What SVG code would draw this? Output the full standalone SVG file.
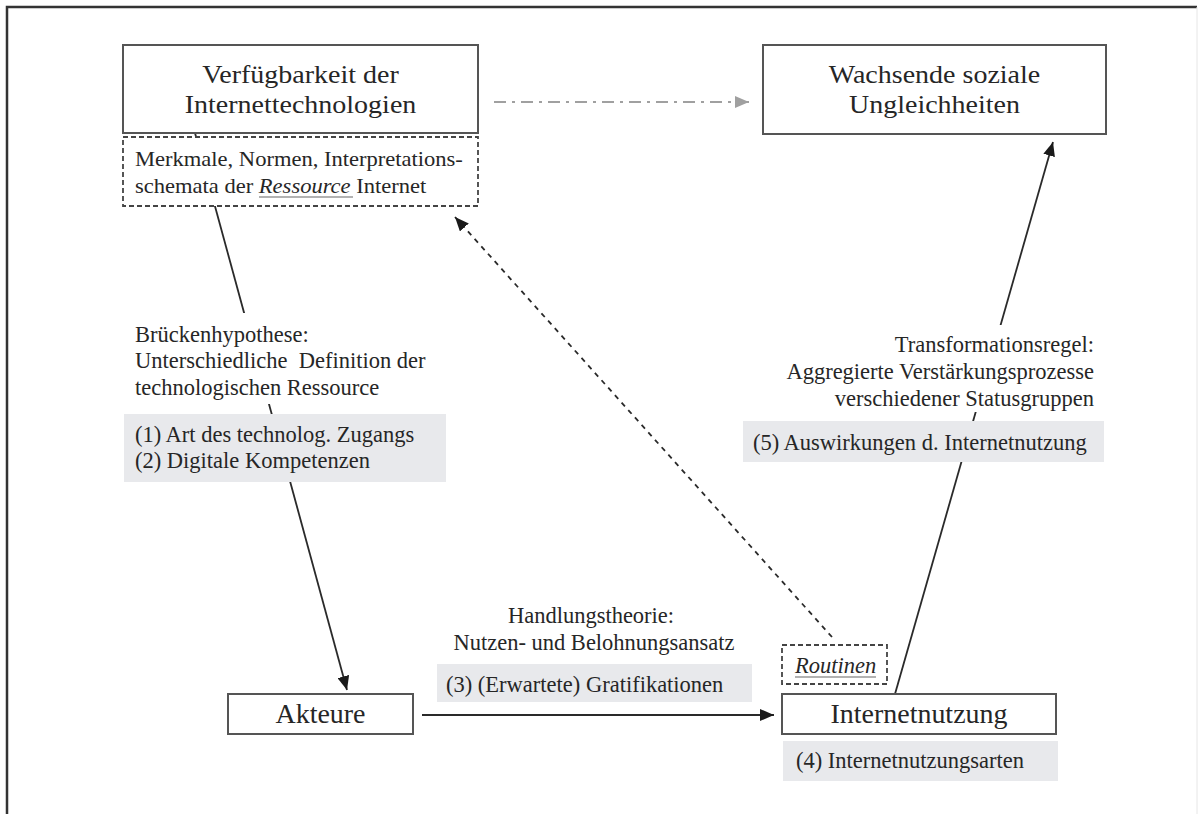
<svg xmlns="http://www.w3.org/2000/svg" width="1200" height="814" viewBox="0 0 1200 814">
<style>
text{font-family:"Liberation Serif","Times New Roman",serif;fill:#262626}
.title{font-size:25px;text-anchor:middle}
.title2{font-size:26.5px;text-anchor:middle}
.lbl{font-size:22.5px}
.box{fill:#fff;stroke:#555;stroke-width:2}
.dbox{fill:#fff;stroke:#444;stroke-width:1.8;stroke-dasharray:5 3}
.gray{fill:#e8e9ec}
.bg{fill:#fff}
.conn{fill:none;stroke:#2a2a2a;stroke-width:1.8}
.dash{stroke-dasharray:5 5}
.dashdot{stroke:#a0a0a0;stroke-dasharray:12 6 3 6}
.ul{stroke:#999;stroke-width:1.3}
</style>
<defs>
<marker id="ah" viewBox="0 0 14 12" refX="14" refY="6" markerWidth="14" markerHeight="12" markerUnits="userSpaceOnUse" orient="auto"><path d="M0,0 L14,6 L0,12 z" fill="#1a1a1a"/></marker>
<marker id="ahg" viewBox="0 0 14 12" refX="14" refY="6" markerWidth="14" markerHeight="12" markerUnits="userSpaceOnUse" orient="auto"><path d="M0,0 L14,6 L0,12 z" fill="#a0a0a0"/></marker>
</defs>
<rect width="1200" height="814" fill="#fff"/>
<g id="frame">
<path d="M7,814 V7 H1197" fill="none" stroke="#333" stroke-width="2.5"/>
<path d="M1197,7 V814" fill="none" stroke="#e6e6e6" stroke-width="1"/>
</g>
<g id="connectors">
<line class="conn" x1="195" y1="133" x2="347" y2="690" marker-end="url(#ah)"/>
<line class="conn" x1="895" y1="694" x2="1053" y2="142" marker-end="url(#ah)"/>
<line class="conn dash" x1="832" y1="637" x2="455" y2="217" marker-end="url(#ah)"/>
<line class="conn" x1="422" y1="715" x2="774" y2="715" marker-end="url(#ah)"/>
<line class="conn dashdot" x1="494" y1="102" x2="749" y2="102" marker-end="url(#ahg)"/>
</g>
<g id="verfuegbarkeit">
<rect class="box" x="123" y="45" width="355" height="88"/>
<text class="title" transform="matrix(1.12 0 0 1 300.5 0)" x="0" y="83">Verfügbarkeit der</text>
<text class="title" transform="matrix(1.12 0 0 1 300.5 0)" x="0" y="113">Internettechnologien</text>
</g>
<g id="merkmale">
<rect class="dbox" x="123" y="137" width="355" height="69"/>
<text class="lbl" style="font-size:20.5px" transform="matrix(1.1 0 0 1 135 0)" x="0" y="166">Merkmale, Normen, Interpretations-</text>
<text class="lbl" style="font-size:20.5px" transform="matrix(1.1 0 0 1 135 0)" x="0" y="193">schemata der <tspan font-style="italic">Ressource</tspan> Internet</text>
<line class="ul" x1="259" y1="197" x2="353" y2="197"/>
</g>
<g id="wachsende">
<rect class="box" x="763" y="45" width="343" height="89"/>
<text class="title" transform="matrix(1.12 0 0 1 934.5 0)" x="0" y="83">Wachsende soziale</text>
<text class="title" transform="matrix(1.12 0 0 1 934.5 0)" x="0" y="113">Ungleichheiten</text>
</g>
<g id="brueckenhypothese">
<rect class="bg" x="128" y="313" width="312" height="91"/>
<text class="lbl" x="135" y="342">Brückenhypothese:</text>
<text class="lbl" x="135" y="368" style="white-space:pre">Unterschiedliche  Definition der</text>
<text class="lbl" x="135" y="395">technologischen Ressource</text>
</g>
<g id="kompetenzen">
<rect class="gray" x="124" y="414" width="322" height="68"/>
<text class="lbl" x="135" y="442">(1) Art des technolog. Zugangs</text>
<text class="lbl" x="135" y="468">(2) Digitale Kompetenzen</text>
</g>
<g id="transformationsregel">
<rect class="bg" x="760" y="325" width="340" height="87"/>
<text class="lbl" x="1094" y="352" text-anchor="end">Transformationsregel:</text>
<text class="lbl" x="1094" y="379" text-anchor="end">Aggregierte Verstärkungsprozesse</text>
<text class="lbl" x="1094" y="406" text-anchor="end">verschiedener Statusgruppen</text>
</g>
<g id="auswirkungen">
<rect class="gray" x="743" y="421" width="361" height="41"/>
<text class="lbl" x="753" y="450">(5) Auswirkungen d. Internetnutzung</text>
</g>
<g id="handlungstheorie">
<text class="lbl" x="591" y="623" text-anchor="middle">Handlungstheorie:</text>
<text class="lbl" x="594" y="650" text-anchor="middle">Nutzen- und Belohnungsansatz</text>
</g>
<g id="gratifikationen">
<rect class="gray" x="437" y="664" width="315" height="38"/>
<text class="lbl" x="446" y="692">(3) (Erwartete) Gratifikationen</text>
</g>
<g id="akteure">
<rect class="box" x="228" y="694" width="185" height="40"/>
<text class="title2" transform="matrix(1.055 0 0 1 320.5 0)" x="0" y="723">Akteure</text>
</g>
<g id="routinen">
<rect class="dbox" x="782" y="645" width="105" height="39"/>
<text class="lbl" x="795" y="673" font-style="italic">Routinen</text>
<line class="ul" x1="795" y1="677" x2="876" y2="677"/>
</g>
<g id="internetnutzung">
<rect class="box" x="782" y="694" width="274" height="40"/>
<text class="title2" transform="matrix(1.055 0 0 1 919 0)" x="0" y="723">Internetnutzung</text>
</g>
<g id="nutzungsarten">
<rect class="gray" x="783" y="741" width="275" height="40"/>
<text class="lbl" x="796" y="768">(4) Internetnutzungsarten</text>
</g>
</svg>
